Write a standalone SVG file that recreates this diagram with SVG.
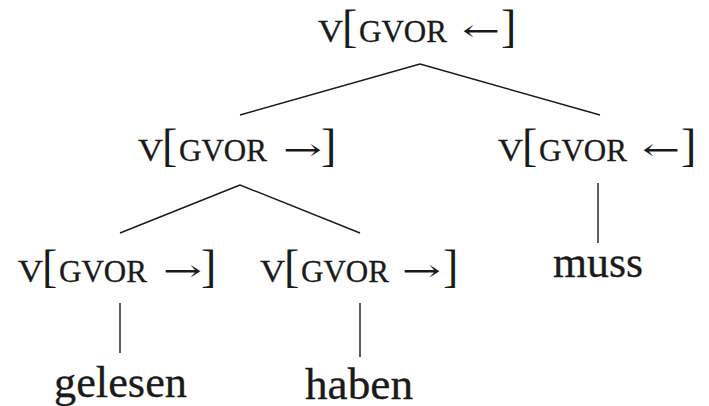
<svg xmlns="http://www.w3.org/2000/svg" width="709" height="406" viewBox="0 0 709 406">
<style>
.sc{font-family:"Liberation Serif",serif;font-size:31px;fill:#1a1a1a;stroke:#1a1a1a;stroke-width:0.3}
.br{font-family:"Liberation Serif",serif;font-size:46px;fill:#1a1a1a}
.ar{font-family:"DejaVu Serif","Liberation Serif",serif;font-size:30px;fill:#1a1a1a}
.w{font-family:"Liberation Serif",serif;font-size:44px;fill:#1a1a1a;stroke:#1a1a1a;stroke-width:0.3}
.e{stroke:#1a1a1a;stroke-width:1.4;fill:none}
</style>
<rect width="709" height="406" fill="#fff"/>
<defs>
<g id="lab">
<text class="sc" x="0" y="0" textLength="25" lengthAdjust="spacingAndGlyphs">V</text>
<text class="br" x="24" y="0">[</text>
<text class="sc" x="41" y="0" textLength="88" lengthAdjust="spacingAndGlyphs">GVOR</text>
<text class="br" x="183" y="0">]</text>
</g>
</defs>
<g id="connectors">
<line class="e" x1="420" y1="64" x2="240" y2="115"/>
<line class="e" x1="420" y1="64" x2="600" y2="115"/>
<line class="e" x1="240" y1="185" x2="120" y2="233"/>
<line class="e" x1="240" y1="185" x2="360" y2="233"/>
<line class="e" x1="598" y1="183" x2="598" y2="243"/>
<line class="e" x1="120" y1="303" x2="120" y2="353"/>
<line class="e" x1="360" y1="303" x2="360" y2="357"/>
</g>
<g id="n-root" transform="translate(318,42)">
<use href="#lab"/>
<text class="ar" x="144" y="-1" textLength="38" lengthAdjust="spacingAndGlyphs">←</text>
</g>
<g id="n-left" transform="translate(138,161)">
<use href="#lab"/>
<text class="ar" x="145" y="-1" textLength="39" lengthAdjust="spacingAndGlyphs">→</text>
</g>
<g id="n-right" transform="translate(498,161)">
<use href="#lab"/>
<text class="ar" x="144" y="-1" textLength="38" lengthAdjust="spacingAndGlyphs">←</text>
</g>
<g id="n-ll" transform="translate(18,282)">
<use href="#lab"/>
<text class="ar" x="145" y="-1" textLength="39" lengthAdjust="spacingAndGlyphs">→</text>
</g>
<g id="n-lr" transform="translate(260,282)">
<use href="#lab"/>
<text class="ar" x="142" y="-1" textLength="39" lengthAdjust="spacingAndGlyphs">→</text>
</g>
<g id="w-muss"><text class="w" x="553" y="277" textLength="90" lengthAdjust="spacingAndGlyphs">muss</text></g>
<g id="w-gelesen"><text class="w" x="54" y="397" textLength="133" lengthAdjust="spacingAndGlyphs">gelesen</text></g>
<g id="w-haben"><text class="w" x="305" y="399" textLength="108" lengthAdjust="spacingAndGlyphs">haben</text></g>
</svg>
